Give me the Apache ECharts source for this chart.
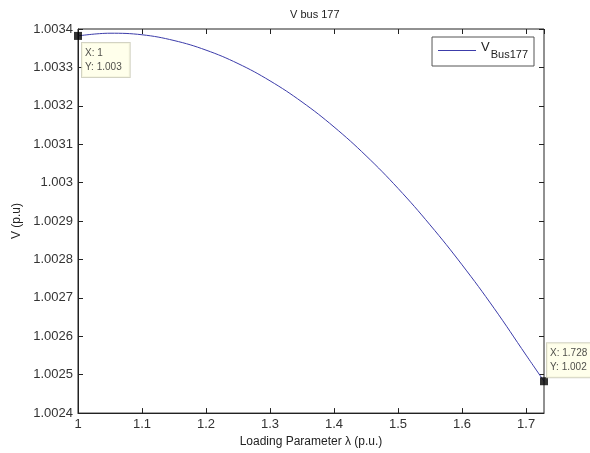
<!DOCTYPE html>
<html>
<head>
<meta charset="utf-8">
<script src="https://cdn.jsdelivr.net/npm/echarts@6/dist/echarts.min.js"></script>
<style>
  html, body { margin: 0; padding: 0; background: #fff; }
  #chart { width: 590px; height: 453px; }
</style>
</head>
<body>
<div id="chart"></div>
<script>
// loading parameter lambda (p.u.)
var lambda = [1.00, 1.05, 1.10, 1.15, 1.20, 1.25, 1.30, 1.35, 1.40, 1.45, 1.50, 1.55, 1.60, 1.65, 1.70, 1.728];
// voltage at bus 177 (p.u.)
var vBus = [1.003382, 1.003389, 1.003385, 1.003370, 1.003345, 1.003310, 1.003265, 1.003210,
            1.003145, 1.003070, 1.002985, 1.002890, 1.002786, 1.002673, 1.002551, 1.002483];
// data tips
var tipX = [1, 1.728];
var tipY = [1.003382, 1.002483];
var tipText = [['X: 1', 'Y: 1.003'], ['X: 1.728', 'Y: 1.002']];

var FONT = 'Liberation Sans, Arial, sans-serif';
var chart = echarts.init(document.getElementById('chart'));

var lineData = lambda.map(function (x, i) { return [x, vBus[i]]; });
var tipData = tipX.map(function (x, i) { return [x, tipY[i]]; });
var tipPos = [[8, 11], [7, -34]];

function fmt(v) { return String(parseFloat(v.toFixed(4))); }

var option = {
  backgroundColor: '#fff',
  animation: false,
  title: {
    text: 'V bus 177',
    left: 285,
    top: 4,
    textStyle: { fontFamily: FONT, fontSize: 11, fontWeight: 'normal', color: '#222' }
  },
  legend: {
    right: 56,
    top: 37,
    itemWidth: 38,
    itemHeight: 10,
    itemGap: 0,
    padding: [4, 6, 6, 6],
    backgroundColor: '#fff',
    borderColor: '#555',
    borderWidth: 1,
    borderRadius: 0,
    icon: 'path://M0,5L40,5L40,6L0,6Z',
    data: [{ name: 'VBus177' }],
    formatter: function () { return '{v|V}{s|Bus177}'; },
    textStyle: {
      fontFamily: FONT,
      rich: {
        v: { fontSize: 13, color: '#222', padding: [0, 1, 6, 0] },
        s: { fontSize: 11, color: '#222', padding: [8, 0, 0, 0] }
      }
    }
  },
  grid: {
    left: 78, right: 46, top: 29, bottom: 38,
    show: true, borderColor: '#222', borderWidth: 1, backgroundColor: '#fff'
  },
  xAxis: [{
    type: 'value',
    min: 1, max: 1.728, interval: 0.1,
    name: 'Loading Parameter λ (p.u.)',
    nameLocation: 'middle',
    nameGap: 21,
    nameTextStyle: { fontFamily: FONT, fontSize: 12, color: '#222' },
    axisLine: { show: true, onZero: false, lineStyle: { color: '#222', width: 1 } },
    axisTick: { show: true, inside: true, length: 5, lineStyle: { color: '#222' } },
    axisLabel: {
      fontFamily: FONT, fontSize: 13, color: '#333', margin: 5,
      showMaxLabel: false,
      formatter: fmt
    },
    splitLine: { show: false }
  }, {
    type: 'value',
    position: 'top',
    min: 1, max: 1.728, interval: 0.1,
    axisLine: { show: false },
    axisTick: { show: true, inside: true, length: 5, lineStyle: { color: '#222' } },
    axisLabel: { show: false },
    splitLine: { show: false }
  }],
  yAxis: [{
    type: 'value',
    min: 1.0024, max: 1.0034, interval: 0.0001,
    name: 'V (p.u)',
    nameLocation: 'middle',
    nameGap: 46,
    nameTextStyle: { fontFamily: FONT, fontSize: 12, color: '#222' },
    axisLine: { show: true, onZero: false, lineStyle: { color: '#222', width: 1 } },
    axisTick: { show: true, inside: true, length: 5, lineStyle: { color: '#222' } },
    axisLabel: {
      fontFamily: FONT, fontSize: 13, color: '#333', margin: 5,
      formatter: fmt
    },
    splitLine: { show: false }
  }, {
    type: 'value',
    position: 'right',
    min: 1.0024, max: 1.0034, interval: 0.0001,
    axisLine: { show: false },
    axisTick: { show: true, inside: true, length: 5, lineStyle: { color: '#222' } },
    axisLabel: { show: false },
    splitLine: { show: false }
  }],
  series: [{
    name: 'VBus177',
    type: 'line',
    data: lineData,
    smooth: 0.4,
    showSymbol: false,
    clip: false,
    lineStyle: { color: '#3c3caa', width: 1 },
    itemStyle: { color: '#3c3caa' }
  }, {
    name: 'tips',
    type: 'scatter',
    data: tipData.map(function (d, i) {
      return {
        value: d,
        label: {
          show: true,
          position: tipPos[i],
          formatter: tipText[i].join('\n'),
          fontFamily: FONT,
          fontSize: 10,
          lineHeight: 14,
          color: '#222',
          backgroundColor: '#ffffe6',
          borderColor: '#c8c8b4',
          borderWidth: 1,
          padding: [3, 8, 3, 3]
        }
      };
    }),
    symbol: 'rect',
    symbolSize: 8,
    clip: false,
    z: 5,
    itemStyle: { color: '#000' },
    tooltip: { show: false }
  }]
};

chart.setOption(option);
</script>
</body>
</html>
